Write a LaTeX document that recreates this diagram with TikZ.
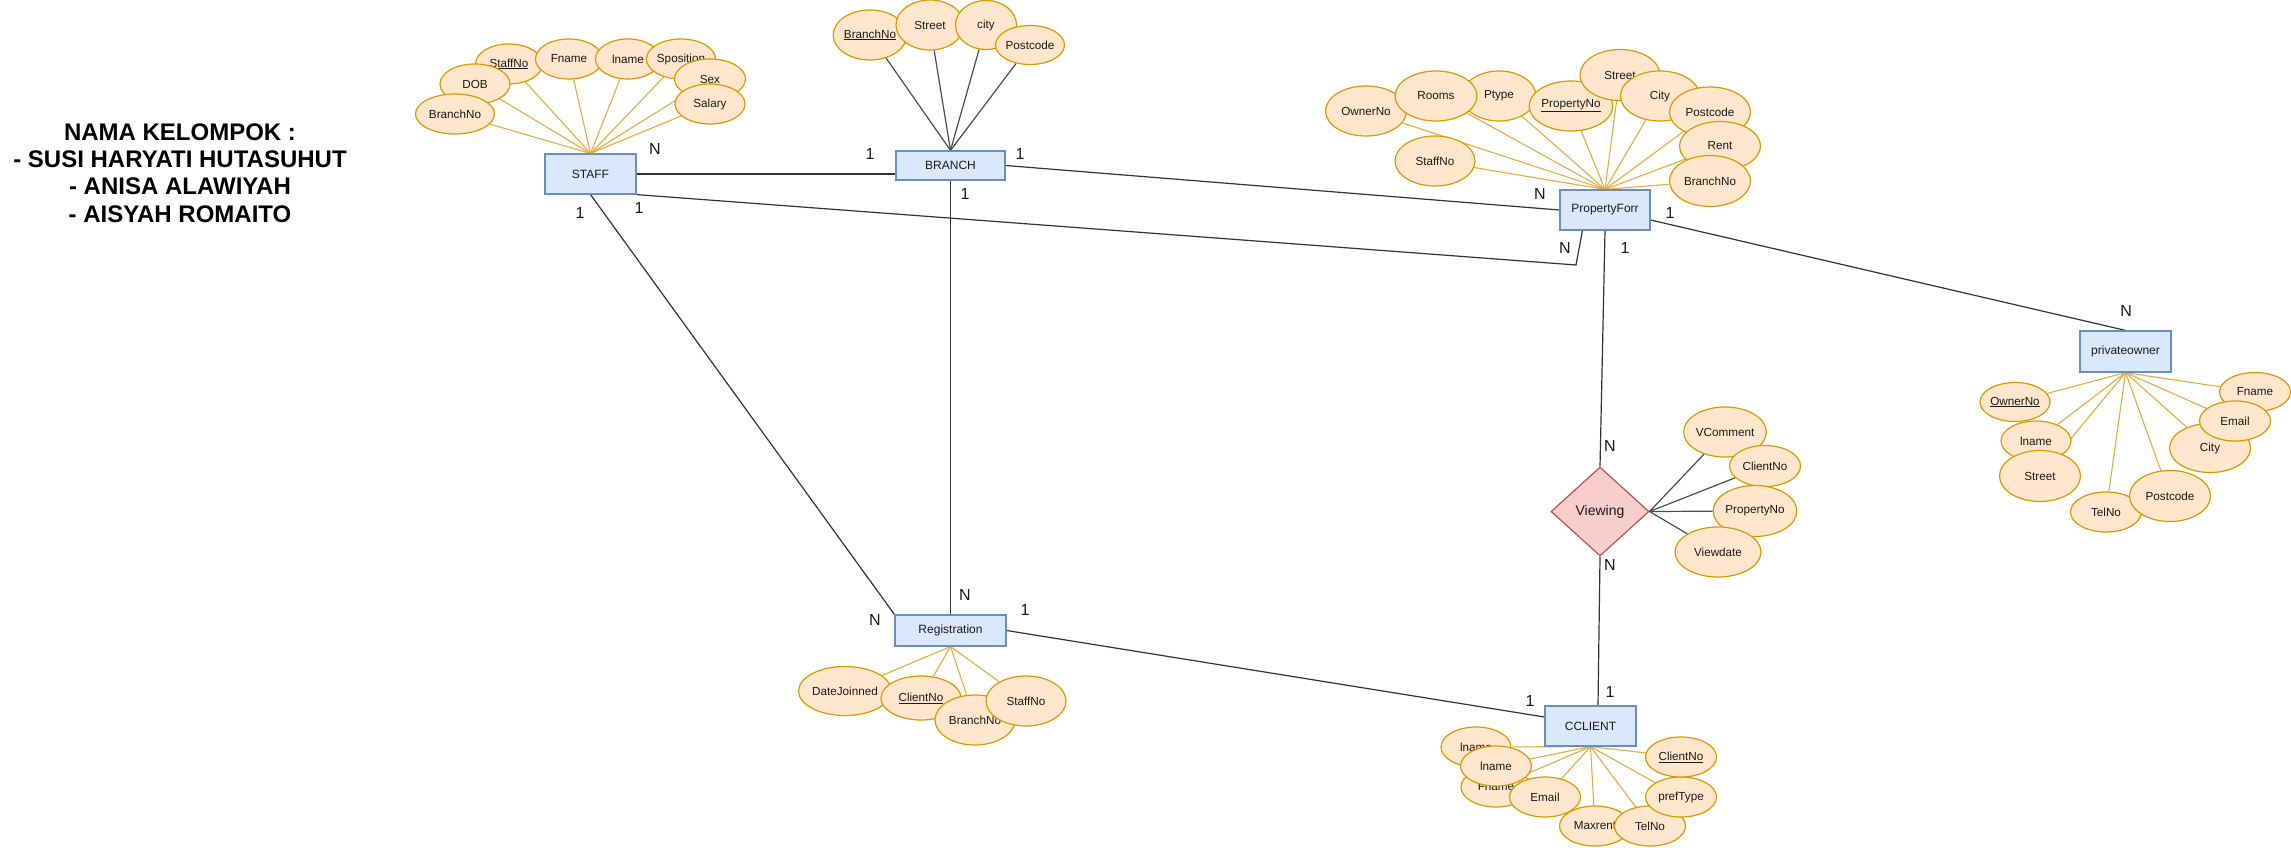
\documentclass[tikz,border=0pt]{standalone}
\usepackage{fontspec}
\setmainfont{Liberation Sans}
\usetikzlibrary{shapes.geometric,calc}
\pgfdeclarelayer{background}
\pgfsetlayers{background,main}
\definecolor{entfill}{HTML}{DAE8FC}
\definecolor{entdraw}{HTML}{6C8EBF}
\definecolor{attfill}{HTML}{FFE6CC}
\definecolor{attdraw}{HTML}{D79B00}
\definecolor{relfill}{HTML}{F8CECC}
\definecolor{reldraw}{HTML}{B85450}
\definecolor{attline}{HTML}{E0AE45}
\definecolor{darkline}{HTML}{333333}
\definecolor{grayline}{HTML}{4D4D4D}
\definecolor{txt}{HTML}{1A1A1A}
\begin{document}
\begin{tikzpicture}[x=1pt,y=-1pt,
  sz/.style 2 args={minimum width=#1pt,minimum height=#2pt},
  entity/.style={rectangle,draw=entdraw,fill=entfill,line width=1.2pt,inner sep=0pt,text=txt,font=\fontsize{12}{14}\selectfont},
  attr/.style={ellipse,draw=attdraw,fill=attfill,line width=1.2pt,inner sep=0pt,text=txt,font=\fontsize{11.7}{14}\selectfont},
  relship/.style={diamond,draw=reldraw,fill=relfill,line width=1.2pt,inner sep=0pt,text=txt,font=\fontsize{14}{16}\selectfont},
  rel/.style={draw=darkline,line width=1.2pt},
  aline/.style={draw=attline,line width=1.1pt},
  gline/.style={draw=grayline,line width=1.2pt},
  card/.style={inner sep=0pt,text=txt,font=\fontsize{16}{16}\selectfont}
]
\useasboundingbox (0,0) rectangle (2291,848);

% title
\node[align=center,inner sep=0pt,text=black,font=\bfseries\fontsize{24}{27.3}\selectfont] (title) at (180,173)
  {NAMA KELOMPOK :\\- SUSI HARYATI HUTASUHUT\\- ANISA ALAWIYAH\\- AISYAH ROMAITO};

% entities
\node[entity,sz={91}{40}] (staff) at (590.5,174) {STAFF};
\node[entity,sz={109}{29}] (branch) at (950.5,165.5) {BRANCH};
\node[entity,sz={90}{40}] (prop) at (1605,210) {PropertyForr};
\node[entity,sz={91}{41}] (owner) at (2125.5,351.5) {privateowner};
\node[entity,sz={111}{31}] (reg) at (950.5,630.5) {Registration};
\node[entity,sz={91}{40}] (client) at (1590.5,726) {CCLIENT};
\node[relship,sz={98}{89}] (viewing) at (1600,511.5) {Viewing};

% STAFF attributes
\node[attr,sz={67}{40}] (sStaffNo) at (509,64) {\underline{StaffNo}};
\node[attr,sz={67}{40}] (sFname) at (569,59) {Fname};
\node[attr,sz={65}{40}] (slname) at (628,59) {lname};
\node[attr,sz={69}{40}] (sSpos) at (681,59) {Sposition};
\node[attr,sz={71}{40}] (sSex) at (710,79) {Sex};
\node[attr,sz={70}{40}] (sSalary) at (710,104) {Salary};
\node[attr,sz={70}{40}] (sDOB) at (475,84) {DOB};
\node[attr,sz={79}{40}] (sBranchNo) at (455,114) {BranchNo};

% BRANCH attributes
\node[attr,sz={69}{50}] (bBranchNo) at (870,35) {\underline{BranchNo}};
\node[attr,sz={68}{50}] (bStreet) at (930,25) {Street};
\node[attr,sz={61}{49}] (bcity) at (986,25) {city};
\node[attr,sz={69}{39}] (bPostcode) at (1030,45) {Postcode};

% PropertyForr attributes
\node[attr,sz={81}{50}] (pOwnerNo) at (1366,111) {OwnerNo};
\node[attr,sz={74}{50}] (pPtype) at (1499,96) {Ptype};
\node[attr,sz={82}{50}] (pRooms) at (1436,96) {Rooms};
\node[attr,sz={80}{50}] (pPropertyNo) at (1571,106) {\underline{PropertyNo}};
\node[attr,sz={80}{51}] (pStreet) at (1620,75) {Street};
\node[attr,sz={79}{50}] (pCity) at (1660,96) {City};
\node[attr,sz={81}{50}] (pPostcode) at (1710,112) {Postcode};
\node[attr,sz={81}{49}] (pRent) at (1720,146) {Rent};
\node[attr,sz={81}{51}] (pBranchNo) at (1710,181) {BranchNo};
\node[attr,sz={80}{50}] (pStaffNo) at (1435,161) {StaffNo};

% privateowner attributes
\node[attr,sz={70}{39}] (oOwnerNo) at (2015,402) {\underline{OwnerNo}};
\node[attr,sz={70}{40}] (olname) at (2036,441) {lname};
\node[attr,sz={81}{51}] (oStreet) at (2040,476) {Street};
\node[attr,sz={71}{40}] (oTelNo) at (2106,512) {TelNo};
\node[attr,sz={81}{51}] (oPostcode) at (2170,496) {Postcode};
\node[attr,sz={71}{39}] (oFname) at (2255,392) {Fname};
\node[attr,sz={81}{49}] (oCity) at (2210,448) {City};
\node[attr,sz={71}{40}] (oEmail) at (2235,421) {Email};

% Registration attributes
\node[attr,sz={79}{49}] (rDate) at (845,691) {DateJoinned};
\node[attr,sz={80}{44}] (rClientNo) at (921,698) {\underline{ClientNo}};
\node[attr,sz={80}{50}] (rBranchNo) at (975,720) {BranchNo};
\node[attr,sz={80}{50}] (rStaffNo) at (1026,701) {StaffNo};

% CCLIENT attributes
\node[attr,sz={70}{40}] (clnameB) at (1476,747) {lname};
\node[attr,sz={70}{40}] (cFname) at (1496,787) {Fname};
\node[attr,sz={71}{40}] (clname) at (1496,766) {lname};
\node[attr,sz={71}{40}] (cEmail) at (1545,797) {Email};
\node[attr,sz={71}{40}] (cMaxrent) at (1595,826) {Maxrent};
\node[attr,sz={71}{40}] (cTelNo) at (1650,826) {TelNo};
\node[attr,sz={71}{40}] (cprefType) at (1681,797) {prefType};
\node[attr,sz={71}{40}] (cClientNo) at (1681,757) {\underline{ClientNo}};

% Viewing attributes
\node[attr,sz={81}{50}] (vVComment) at (1725,432) {VComment};
\node[attr,sz={71}{41}] (vClientNo) at (1765,466) {ClientNo};
\node[attr,sz={81}{51}] (vPropertyNo) at (1755,511) {PropertyNo};
\node[attr,sz={86}{50}] (vViewdate) at (1718,552) {Viewdate};

\coordinate (pbend) at (1576,265);

\begin{pgfonlayer}{background}
  \fill[white] (0,0) rectangle (2291,848);
  % attribute connectors
  \foreach \a in {sStaffNo,sFname,slname,sSpos,sSex,sSalary,sDOB,sBranchNo}
    \draw[aline] (\a) -- (staff.north);
  \foreach \a in {bBranchNo,bStreet,bcity,bPostcode}
    \draw[gline] (\a) -- (branch.north);
  \foreach \a in {pOwnerNo,pRooms,pPtype,pPropertyNo,pStreet,pCity,pPostcode,pRent,pBranchNo,pStaffNo}
    \draw[aline] (\a) -- (prop.north);
  \foreach \a in {oOwnerNo,olname,oStreet,oTelNo,oPostcode,oCity,oEmail,oFname}
    \draw[aline] (\a) -- (owner.south);
  \foreach \a in {rDate,rClientNo,rBranchNo,rStaffNo}
    \draw[aline] (\a) -- (reg.south);
  \foreach \a in {clnameB,cFname,clname,cEmail,cMaxrent,cTelNo,cprefType,cClientNo}
    \draw[aline] (\a) -- (client.south);
  \foreach \a in {vVComment,vClientNo,vPropertyNo,vViewdate}
    \draw[gline] (\a) -- (viewing.east);
  % relationship connectors
  \draw[rel] (staff.east) -- (staff.east -| branch.west);
  \draw[rel] (branch.east) -- (prop.west);
  \draw[rel] (staff.south east) -- (pbend) -- ($(prop.south west)+(23,0)$);
  \draw[rel] (staff.south) -- (reg.north west);
  \draw[rel] (branch.south) -- (reg.north);
  \draw[rel] ($(prop.east)+(0,10)$) -- (owner.north);
  \draw[rel] (prop.south) -- (viewing.north);
  \draw[rel] (viewing.south) -- ($(client.north)+(7.5,0)$);
  \draw[rel] (reg.east) -- ($(client.west)+(0,-9)$);
\end{pgfonlayer}

% cardinalities
\node[card] (k1) at (655,149) {N};
\node[card] (k2) at (870,154) {1};
\node[card] (k3) at (1020,154) {1};
\node[card] (k4) at (965,194) {1};
\node[card] (k5) at (580,213) {1};
\node[card] (k6) at (639,208) {1};
\node[card] (k7) at (1540,194) {N};
\node[card] (k8) at (1670,213) {1};
\node[card] (k9) at (1565,248) {N};
\node[card] (k10) at (1625,248) {1};
\node[card] (k11) at (2126,311) {N};
\node[card] (k12) at (1610,446) {N};
\node[card] (k13) at (1610,565) {N};
\node[card] (k14) at (965,595) {N};
\node[card] (k15) at (875,620) {N};
\node[card] (k16) at (1025,610) {1};
\node[card] (k17) at (1530,701) {1};
\node[card] (k18) at (1610,692) {1};
\end{tikzpicture}
\end{document}
